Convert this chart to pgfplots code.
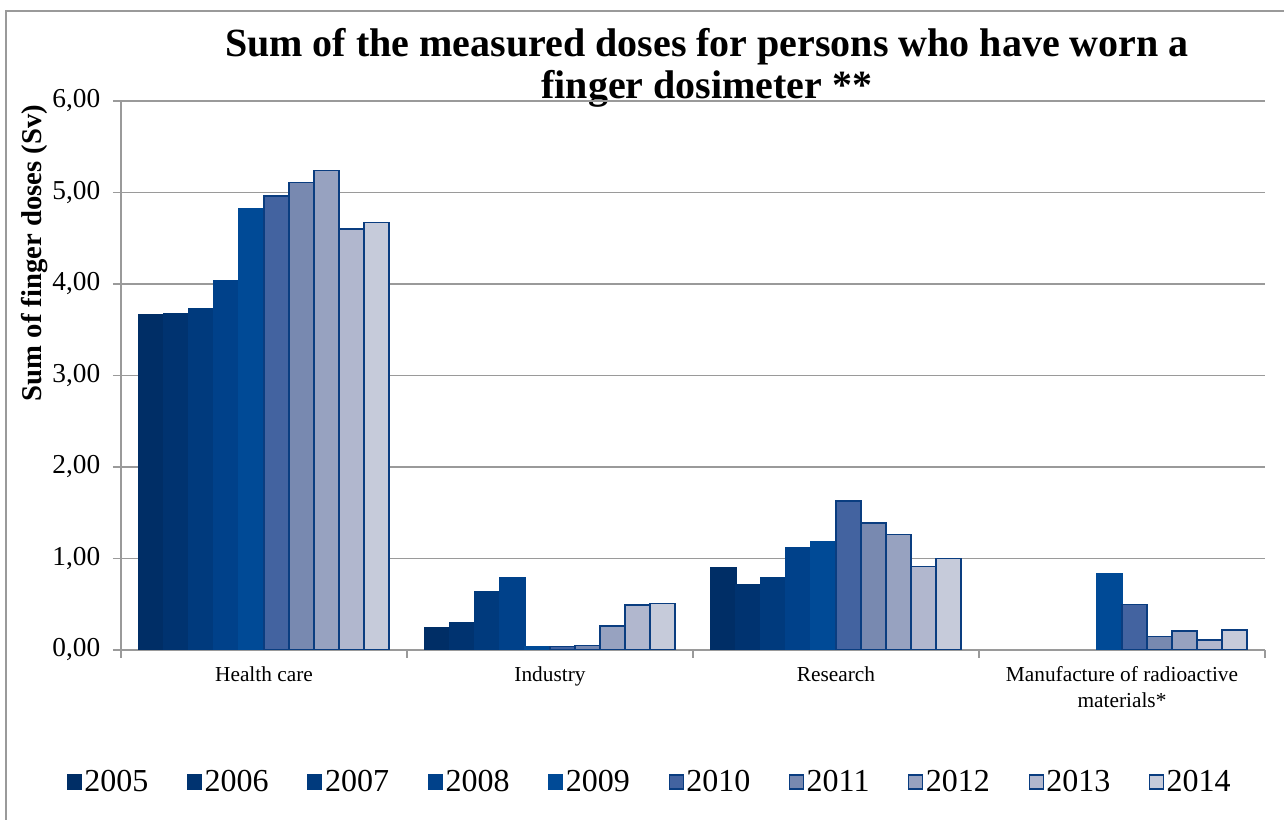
\documentclass[border=0pt]{standalone}
\usepackage{pgfplots}
\pgfplotsset{compat=1.18}
\usepackage{fontspec}
\setmainfont{Liberation Serif}

% bar fills, darkest (2005) to lightest (2014)
\definecolor{c05}{HTML}{002E66}
\definecolor{c06}{HTML}{003370}
\definecolor{c07}{HTML}{003A7D}
\definecolor{c08}{HTML}{00418A}
\definecolor{c09}{HTML}{004A96}
\definecolor{c10}{HTML}{4363A0}
\definecolor{c11}{HTML}{7889B0}
\definecolor{c12}{HTML}{97A2C0}
\definecolor{c13}{HTML}{B1B7CE}
\definecolor{c14}{HTML}{C6CBDA}
\definecolor{edge}{HTML}{0A3D80}
\definecolor{axisgray}{HTML}{9A9A9A}

\begin{document}
\begin{tikzpicture}[x=0.75pt,y=0.75pt]
\useasboundingbox (0,0) rectangle (1284,820);
% outer chart frame
\draw[axisgray, line width=1.5pt] (6,-20) -- (6,809) -- (1320,809);

% title
\node[align=center, font=\fontsize{30}{31.5}\selectfont\bfseries] at (707,752)
  {Sum of the measured doses for persons who have worn a\\finger dosimeter **};
% y label
\node[rotate=90, font=\fontsize{21.5}{24}\selectfont\bfseries] at (35,567)
  {Sum of finger doses (Sv)};

\begin{axis}[
  at={(90.75pt,127.5pt)}, anchor=south west,
  scale only axis, width=858pt, height=411.75pt,
  ybar=0pt, bar width=18.75pt,
  xmin=-0.5, xmax=3.5, ymin=0, ymax=6,
  enlargelimits=false,
  axis x line=bottom, axis y line=left,
  axis line style={-, axisgray, line width=1.2pt},
  xtick={0,1,2,3},
  xticklabels={Health care, Industry, Research, {Manufacture of radioactive\\materials*}},
  major x tick style={draw=none},
  minor xtick={-0.5,0.5,1.5,2.5,3.5},
  minor x tick style={axisgray, line width=1.2pt},
  minor tick length=6pt,
  ytick={0,1,2,3,4,5,6},
  major y tick style={axisgray, line width=1.2pt},
  major tick length=6pt,
  tick align=outside,
  ymajorgrids,
  grid style={axisgray, line width=1.2pt},
  /pgf/number format/fixed,
  /pgf/number format/fixed zerofill,
  /pgf/number format/precision=2,
  /pgf/number format/use comma,
  /pgf/number format/assume math mode=true,
  yticklabel style={font=\fontsize{20.5}{22}\selectfont, xshift=-6pt},
  xticklabel style={font=\fontsize{16}{19}\selectfont, align=center, yshift=-3pt},
  every axis plot/.append style={draw=edge, line width=1.1pt},
  legend columns=10,
  legend cell align=left,
  legend style={at={(0.4624,-0.2404)}, anchor=center, draw=none,
    font=\fontsize{24}{26}\selectfont,
    /tikz/every even column/.append style={column sep=27pt}},
  legend image code/.code={\draw[#1, line width=0.8pt] (0pt,-5.25pt) rectangle (10.5pt,5.25pt);},
]
\addplot[fill=c05, draw=c05] coordinates {(0,3.66) (1,0.24) (2,0.90)};
\addplot[fill=c06, draw=c06] coordinates {(0,3.67) (1,0.30) (2,0.71)};
\addplot[fill=c07, draw=c07] coordinates {(0,3.73) (1,0.64) (2,0.79)};
\addplot[fill=c08, draw=c08] coordinates {(0,4.04) (1,0.79) (2,1.12)};
\addplot[fill=c09, draw=c09] coordinates {(0,4.82) (1,0.04) (2,1.18) (3,0.83)};
\addplot[fill=c10] coordinates {(0,4.96) (1,0.04) (2,1.63) (3,0.50)};
\addplot[fill=c11] coordinates {(0,5.11) (1,0.05) (2,1.39) (3,0.15)};
\addplot[fill=c12] coordinates {(0,5.24) (1,0.26) (2,1.26) (3,0.21)};
\addplot[fill=c13] coordinates {(0,4.60) (1,0.49) (2,0.91) (3,0.11)};
\addplot[fill=c14] coordinates {(0,4.67) (1,0.51) (2,1.00) (3,0.22)};
\legend{2005,2006,2007,2008,2009,2010,2011,2012,2013,2014}
\end{axis}
\end{tikzpicture}
\end{document}
